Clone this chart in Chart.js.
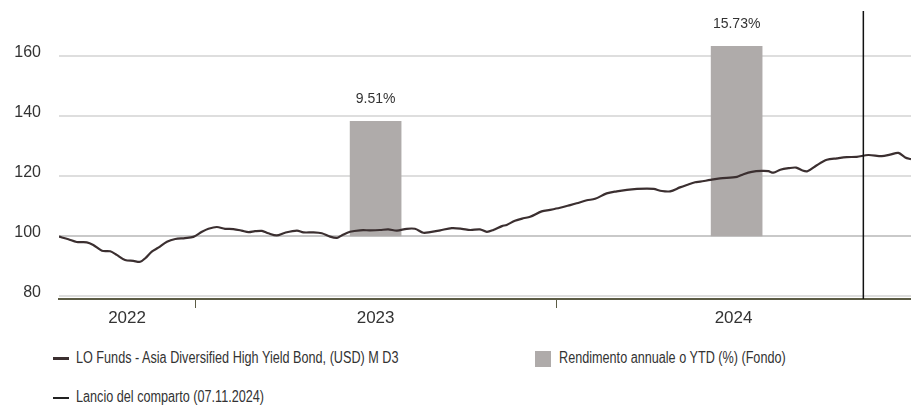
<!DOCTYPE html>
<html lang="it">
<head>
  <meta charset="UTF-8">
  <title>LO Funds - Asia Diversified High Yield Bond</title>
  <script src="https://cdn.jsdelivr.net/npm/chart.js"></script>
  <style>
    body { margin: 0; background: #fff; color: #333;
      font-family: "Liberation Sans", Arial, sans-serif; }
    #wrap { position: relative; width: 911px; height: 405px; overflow: hidden; }
    #chartBox { position: absolute; left: 0; top: 0; width: 911px; height: 330px; }
    .leg { position: absolute; font-size: 16px; line-height: 20px; white-space: nowrap; }
    .leg .txt { display: inline-block; transform: scaleX(0.79); transform-origin: 0 50%; }
    .leg .sw { position: absolute; }
    .sw-fund { left: -23px; top: 9px; width: 16px; height: 3px; background: #3b2f30; }
    .sw-bar { left: -24px; top: 3px; width: 16px; height: 16px; background: #afabaa; }
    .sw-launch { left: -23px; top: 10px; width: 16px; height: 1.5px; background: #222; }
  </style>
</head>
<body>
<div id="wrap">
  <div id="chartBox"><canvas id="perfChart"></canvas></div>
  <div class="leg" style="left:76px; top:348px;"><span class="sw sw-fund"></span><span class="txt">LO Funds - Asia Diversified High Yield Bond, (USD) M D3</span></div>
  <div class="leg" style="left:559px; top:348px;"><span class="sw sw-bar"></span><span class="txt">Rendimento annuale o YTD (%) (Fondo)</span></div>
  <div class="leg" style="left:76px; top:387px;"><span class="sw sw-launch"></span><span class="txt">Lancio del comparto (07.11.2024)</span></div>
</div>

<script>
  // fund NAV rebased to 100, dates as decimal years
  var fundDates = [
    2022.623, 2022.649, 2022.672, 2022.700, 2022.718, 2022.742, 2022.765, 2022.783, 2022.806, 2022.829,
    2022.848, 2022.862, 2022.880, 2022.898, 2022.922, 2022.945, 2022.972, 2022.995, 2023.019, 2023.037,
    2023.060, 2023.083, 2023.106, 2023.129, 2023.148, 2023.166, 2023.185, 2023.203, 2023.226, 2023.249,
    2023.282, 2023.300, 2023.328, 2023.351, 2023.374, 2023.393, 2023.406, 2023.429, 2023.457, 2023.485,
    2023.512, 2023.535, 2023.559, 2023.586, 2023.609, 2023.632, 2023.651, 2023.679, 2023.711, 2023.739,
    2023.762, 2023.789, 2023.808, 2023.826, 2023.850, 2023.863, 2023.886, 2023.909, 2023.928, 2023.960,
    2023.983, 2024.011, 2024.039, 2024.057, 2024.085, 2024.108, 2024.140, 2024.168, 2024.196, 2024.224,
    2024.251, 2024.270, 2024.293, 2024.316, 2024.343, 2024.362, 2024.385, 2024.399, 2024.427, 2024.454,
    2024.501, 2024.519, 2024.542, 2024.570, 2024.588, 2024.602, 2024.621, 2024.644, 2024.665, 2024.681,
    2024.696, 2024.722, 2024.750, 2024.778, 2024.805, 2024.833, 2024.865, 2024.902, 2024.925, 2024.948,
    2024.967, 2024.983
  ];
  var fundValues = [
    99.8, 98.9, 98.0, 97.9, 97.0, 95.1, 94.9, 93.7, 92.0, 91.7,
    91.4, 92.6, 94.8, 96.1, 98.1, 99.0, 99.3, 99.7, 101.4, 102.4,
    103.0, 102.4, 102.3, 101.8, 101.3, 101.6, 101.7, 100.9, 100.2, 101.1,
    101.8, 101.2, 101.2, 100.9, 99.8, 99.4, 100.2, 101.4, 101.9, 101.9,
    102.0, 102.2, 101.8, 102.4, 102.4, 101.1, 101.3, 101.9, 102.6, 102.4,
    102.0, 102.2, 101.4, 102.0, 103.3, 103.7, 105.1, 105.9, 106.4, 108.2,
    108.7, 109.4, 110.3, 110.9, 111.9, 112.4, 114.2, 114.9, 115.4, 115.7,
    115.8, 115.7, 115.0, 114.9, 116.2, 117.0, 117.9, 118.1, 118.7, 119.2,
    119.7, 120.6, 121.4, 121.7, 121.6, 121.1, 122.1, 122.6, 122.8, 121.9,
    121.6, 123.6, 125.4, 125.9, 126.3, 126.4, 127.0, 126.6, 127.1, 127.7,
    126.2, 125.6
  ];

  // annual / YTD return of the fund (%)
  var barYears = [2023, 2024];
  var barReturns = [9.51, 15.73];

  var yearLabels = [2022, 2023, 2024];
  var yTicks = [80, 100, 120, 140, 160];
  var launchDate = 2024.851; // 07.11.2024

  var fontFamily = '"Liberation Sans", Arial, sans-serif';
  var xMin = fundDates[0];
  var xMax = fundDates[fundDates.length - 1];

  // x ticks: year boundaries get a tick mark, segment centres get the label
  var xTicks = [];
  yearLabels.forEach(function(yr) {
    var a = Math.max(xMin, yr), b = Math.min(xMax, yr + 1);
    if (yr > xMin && yr < xMax) xTicks.push({ value: yr, label: '', mark: true });
    xTicks.push({ value: (a + b) / 2, label: String(yr), mark: false });
  });

  var barLabels = {
    id: 'barLabels',
    afterDatasetsDraw: function(chart) {
      var ctx = chart.ctx;
      var meta = chart.getDatasetMeta(1);
      ctx.save();
      ctx.font = '14px ' + fontFamily;
      ctx.fillStyle = '#333';
      ctx.textAlign = 'center';
      ctx.textBaseline = 'middle';
      meta.data.forEach(function(bar, i) {
        ctx.fillText(barReturns[i].toFixed(2) + '%', bar.x, bar.y - 22);
      });
      ctx.restore();
    }
  };

  var launchLine = {
    id: 'launchLine',
    afterDatasetsDraw: function(chart) {
      var ctx = chart.ctx;
      var area = chart.chartArea;
      var x = chart.scales.x.getPixelForValue(launchDate);
      ctx.save();
      ctx.beginPath();
      ctx.moveTo(x, area.top);
      ctx.lineTo(x, area.bottom);
      ctx.lineWidth = 1.5;
      ctx.strokeStyle = '#111';
      ctx.stroke();
      ctx.restore();
    }
  };

  new Chart(document.getElementById('perfChart'), {
    type: 'line',
    data: {
      datasets: [{
        type: 'line',
        label: 'LO Funds - Asia Diversified High Yield Bond, (USD) M D3',
        data: fundDates.map(function(d, i) { return { x: d, y: fundValues[i] }; }),
        borderColor: '#3b2f30',
        borderWidth: 2.2,
        pointRadius: 0,
        tension: 0.3,
        yAxisID: 'y',
        order: 0
      }, {
        type: 'bar',
        label: 'Rendimento annuale o YTD (%) (Fondo)',
        data: barYears.map(function(yr, i) { return { x: yr + 0.5, y: barReturns[i] }; }),
        backgroundColor: '#afabaa',
        barThickness: 51,
        yAxisID: 'y2',
        order: 1
      }]
    },
    options: {
      responsive: true,
      maintainAspectRatio: false,
      animation: false,
      layout: { padding: { top: 11, left: 0, right: 0, bottom: 0 } },
      plugins: { legend: { display: false }, tooltip: { enabled: false } },
      scales: {
        x: {
          type: 'linear',
          min: xMin,
          max: xMax,
          offset: false,
          afterBuildTicks: function(scale) {
            scale.ticks = xTicks.map(function(t) { return { value: t.value }; });
          },
          afterFit: function(scale) {
            scale.height = 31;
            scale.paddingLeft = 0;
            scale.paddingRight = 0;
          },
          ticks: {
            autoSkip: false,
            maxRotation: 0,
            padding: 0,
            color: '#333',
            font: { family: fontFamily, size: 17 },
            callback: function(value, index) { return xTicks[index] ? xTicks[index].label : ''; }
          },
          grid: {
            offset: false,
            drawOnChartArea: false,
            tickLength: 9,
            tickWidth: 1,
            tickColor: function(ctx) {
              return xTicks[ctx.index] && xTicks[ctx.index].mark ? '#5c5c45' : 'rgba(0,0,0,0)';
            }
          },
          border: { color: '#5c5c45', width: 2 }
        },
        y: {
          min: 79,
          max: 175,
          afterBuildTicks: function(scale) {
            scale.ticks = yTicks.map(function(v) { return { value: v }; });
          },
          afterFit: function(scale) {
            scale.width = 59;
            scale.paddingTop = 0;
            scale.paddingBottom = 0;
          },
          ticks: {
            padding: 18,
            labelOffset: -3,
            color: '#333',
            font: { family: fontFamily, size: 16 }
          },
          grid: {
            drawTicks: false,
            lineWidth: 2,
            color: function(ctx) { return ctx.tick && ctx.tick.value === 100 ? '#c9c9c9' : '#dedede'; }
          },
          border: { display: false }
        },
        y2: {
          display: false,
          min: -5.23,
          max: 18.67
        }
      }
    },
    plugins: [barLabels, launchLine]
  });
</script>
</body>
</html>
